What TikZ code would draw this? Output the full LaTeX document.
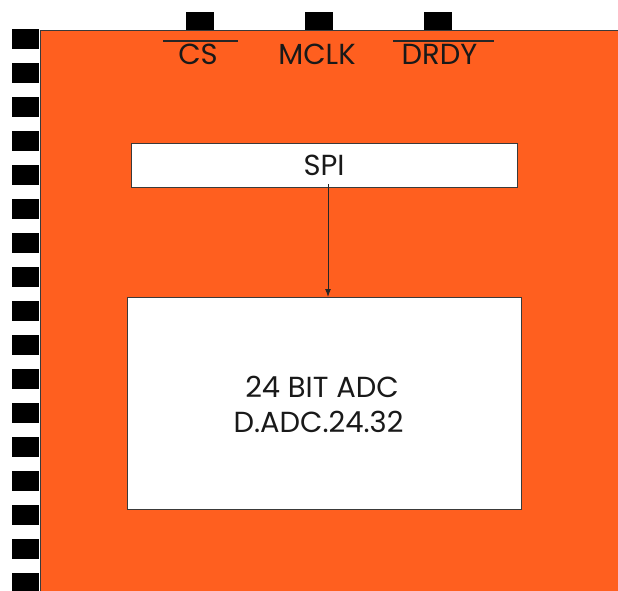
\documentclass[tikz,border=0pt]{standalone}
\usepackage{fontspec}
\setmainfont{Poppins}
\usetikzlibrary{arrows.meta}
\definecolor{chip}{HTML}{FF5F1F}
\definecolor{edge}{HTML}{3A3A3A}
\begin{document}
\begin{tikzpicture}[x=1pt,y=-1pt,
  pinbox/.style={fill=black,draw=none,inner sep=0pt,minimum width=27pt,minimum height=20pt,anchor=north west},
  toppin/.style={fill=black,draw=none,inner sep=0pt,minimum width=28pt,minimum height=18pt,anchor=north west},
  whitebox/.style={fill=white,draw=edge,line width=1.3pt,inner sep=0pt,anchor=north west},
  lbl/.style={font=\fontsize{29}{34}\selectfont,text=black!90,inner sep=0pt,anchor=base},
  ovl/.style={draw=black!85,line width=1.2pt}]
\useasboundingbox (0,0) rectangle (618,591);
% left pins
\foreach \k in {0,...,16}{
  \node[pinbox] (lp\k) at (12,{29+34*\k}) {};
}
% chip body
\node[fill=chip,draw=edge,line width=1pt,inner sep=0pt,minimum width=578pt,minimum height=570pt,anchor=north west] (chip) at (39.5,30) {};
% top pins
\node[toppin] (p1) at (186,12) {};
\node[toppin] (p2) at (305,12) {};
\node[toppin] (p3) at (424,12) {};
% labels
\node[lbl] (cs) at (198,65) {CS};
\node[lbl] (mclk) at (317,65) {MCLK};
\node[lbl] (drdy) at (439.5,65) {DRDY};
\coordinate (csa) at (163,41); \coordinate (csb) at (238,41);
\coordinate (dra) at (393,41); \coordinate (drb) at (494,41);
\draw[ovl] (csa) -- (csb);
\draw[ovl] (dra) -- (drb);
% boxes
\node[whitebox,minimum width=386pt,minimum height=44pt] (spi) at (131,143) {};
\node[lbl] (spitxt) at (324,175) {SPI};
\node[whitebox,minimum width=394pt,minimum height=212pt] (adc) at (127,297) {};
\node[lbl] (adctxt) at (322,397) {24 BIT ADC};
\node[lbl] (adctxt2) at (318.5,432) {D.ADC.24.32};
\coordinate (arrs) at (328,184);
\draw[-{Latex[length=8pt,width=6pt]},line width=1pt,black!85] (arrs) -- (adc.north -| arrs);
\end{tikzpicture}
\end{document}
